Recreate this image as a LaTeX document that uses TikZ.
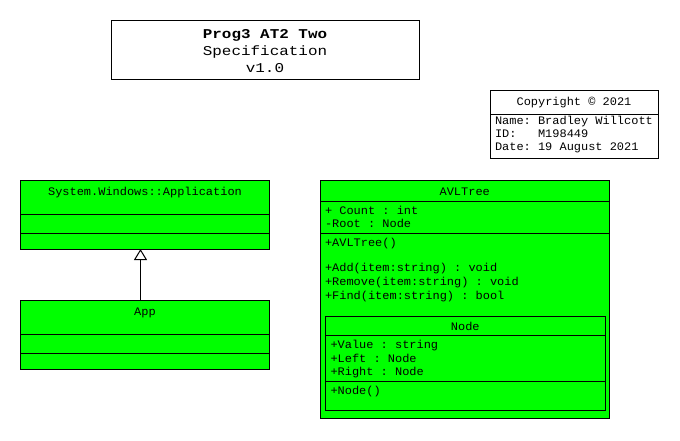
\documentclass[tikz,border=0pt]{standalone}
\usepackage{fontspec}
\setmainfont{Liberation Mono}
\newfontfamily\smallmonofam{Liberation Mono}[FakeStretch=1.04]
\newfontfamily\titlemonofam{Liberation Mono}[FakeStretch=1.18]
\newcommand\smallmono{\frenchspacing\smallmonofam\fontsize{11.5}{13}\selectfont}
\newcommand\titlemono{\frenchspacing\titlemonofam\fontsize{13.5}{16}\selectfont}
\frenchspacing
\usetikzlibrary{arrows.meta}
\definecolor{umlgreen}{HTML}{00FF00}
\begin{document}
\begin{tikzpicture}[x=1pt,y=-1pt,
  every node/.style={inner sep=0pt, outer sep=0pt},
  umlbox/.style={draw=black, line width=1pt, fill=umlgreen, anchor=north west},
  plainbox/.style={draw=black, line width=1pt, fill=white, anchor=north west},
  sep/.style={draw=black, line width=1pt},
  lbl/.style={font=\smallmono, anchor=base west},
  clbl/.style={font=\smallmono, anchor=base},
  ttl/.style={font=\titlemono, anchor=base}]
\useasboundingbox[fill=white] (0,0) rectangle (680,440);

% title
\node[plainbox, minimum width=308pt, minimum height=59pt] (title) at (111,20) {};
\node[ttl] (t1) at (265,38) {\bfseries Prog3 AT2 Two};
\node[ttl] (t2) at (265,55) {Specification};
\node[ttl] (t3) at (265,72) {v1.0};

% copyright
\node[plainbox, minimum width=168pt, minimum height=68pt] (copy) at (490,90) {};
\draw[sep] ([yshift=-24pt]copy.north west) -- ([yshift=-24pt]copy.north east);
\node[clbl] (c0) at (574,105) {Copyright © 2021};
\node[lbl] (c1) at (495,124) {Name: Bradley Willcott};
\node[lbl] (c2) at (495,137) {ID:\ \ \ M198449};
\node[lbl] (c3) at (495,150) {Date: 19 August 2021};

% Application
\node[umlbox, minimum width=249pt, minimum height=68.5pt] (appl) at (20.5,180.5) {};
\draw[sep] ([yshift=-34pt]appl.north west) -- ([yshift=-34pt]appl.north east);
\draw[sep] ([yshift=-53pt]appl.north west) -- ([yshift=-53pt]appl.north east);
\node[clbl] (applname) at (145,195) {System.Windows::Application};

% App
\node[umlbox, minimum width=249pt, minimum height=68.5pt] (app) at (20.5,300.5) {};
\draw[sep] ([yshift=-34pt]app.north west) -- ([yshift=-34pt]app.north east);
\draw[sep] ([yshift=-53pt]app.north west) -- ([yshift=-53pt]app.north east);
\node[clbl] (appname) at (145,315) {App};

% inheritance
\coordinate (ax) at (140.5,0);
\draw[line width=1pt, -{Triangle[open, length=11pt, width=13pt, line width=1pt]}] (app.north -| ax) -- (appl.south -| ax);

% AVLTree
\node[umlbox, minimum width=289.5pt, minimum height=238.5pt] (avl) at (320,180) {};
\draw[sep] ([yshift=-21.5pt]avl.north west) -- ([yshift=-21.5pt]avl.north east);
\draw[sep] ([yshift=-53pt]avl.north west) -- ([yshift=-53pt]avl.north east);
\node[clbl] (avlname) at (464.75,195) {AVLTree};
\node[lbl] (a1) at (325,214) {+ Count : int};
\node[lbl] (a2) at (325,227) {-Root : Node};
\node[lbl] (m1) at (325,246.5) {+AVLTree()};
\node[lbl] (m2) at (325,271.5) {+Add(item:string) : void};
\node[lbl] (m3) at (325,285.5) {+Remove(item:string) : void};
\node[lbl] (m4) at (325,299) {+Find(item:string) : bool};

% Node
\node[umlbox, minimum width=280.5pt, minimum height=94pt] (nd) at (325,316) {};
\draw[sep] ([yshift=-19pt]nd.north west) -- ([yshift=-19pt]nd.north east);
\draw[sep] ([yshift=-65pt]nd.north west) -- ([yshift=-65pt]nd.north east);
\node[clbl] (ndname) at (465.25,330) {Node};
\node[lbl] (n1) at (330.5,348.3) {+Value : string};
\node[lbl] (n2) at (330.5,362) {+Left : Node};
\node[lbl] (n3) at (330.5,375.3) {+Right : Node};
\node[lbl] (n4) at (330.5,394) {+Node()};
\end{tikzpicture}
\end{document}
